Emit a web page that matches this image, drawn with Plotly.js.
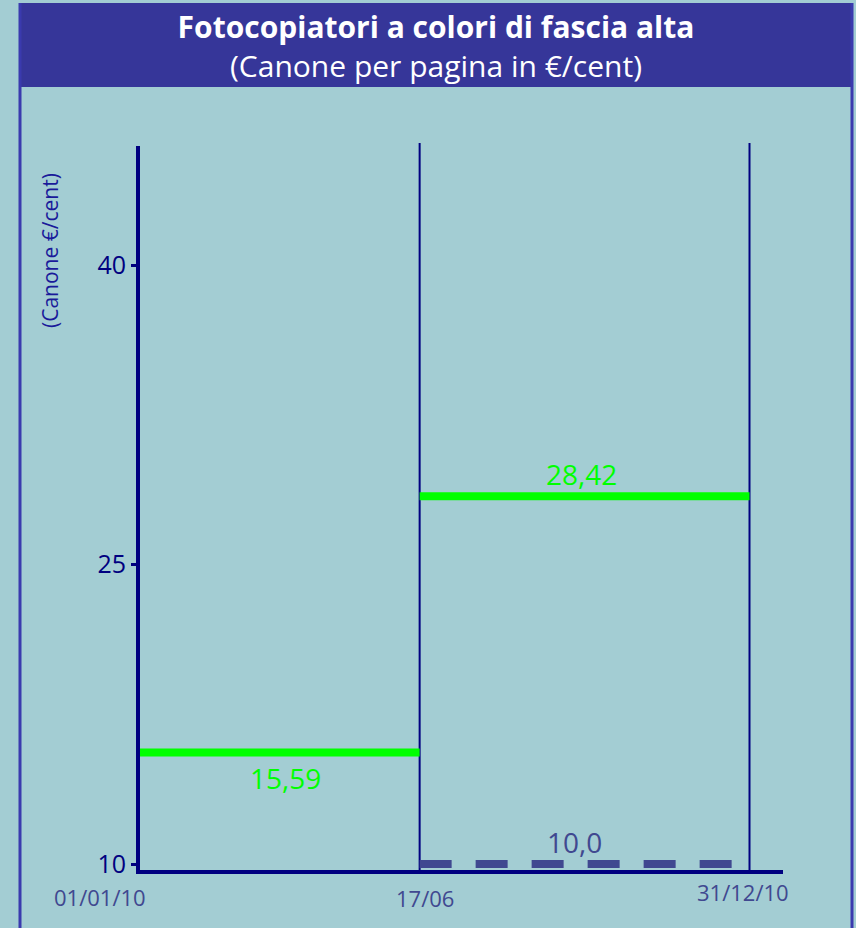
<!DOCTYPE html>
<html><head><meta charset="utf-8">
<script src="https://cdn.plot.ly/plotly-3.0.1.min.js"></script>
<style>html,body{margin:0;padding:0;background:#a3cdd3;}</style>
</head><body><div id="chart" style="width:856px;height:928px;"></div>
<script>
// ---- data ----
const periodStarts = ['2010-01-01', '2010-06-17'];
const periodEnds = ['2010-06-17', '2010-12-31'];
const canoneValues = [15.59, 28.42];
const canoneLabels = ['15,59', '28,42'];
const referenceValue = 10.0;
const referenceLabel = '10,0';
const periodBoundaries = ['2010-06-17', '2010-12-31'];
const xTickDates = ['2010-01-01', '2010-06-17', '2010-12-31'];
const xTickLabels = ['01/01/10', '17/06', '31/12/10'];
const yTickValues = [10, 25, 40];
const yTickLabels = ['10', '25', '40'];

// ---- layout geometry / styles ----
const W = 856, H = 928, L = 140, R = 73, T = 146, B = 58;
const pw = W - L - R, ph = H - T - B;
const pxX = x => (x - L) / pw;
const pxY = y => (H - B - y) / ph;
const FONT = 'Open Sans, sans-serif';
const NAVY = '#000080';
const SLATE = '#404890';
const GREEN = '#00ff00';
const BG = '#a3cdd3';
const xTickShift = [[-40, -27], [5, -28], [-7, -22]];
const valueLabelShift = [[7, -26], [-2, 22]];

function midDate(a, b) {
  const ta = new Date(a + 'T00:00:00Z').getTime(), tb = new Date(b + 'T00:00:00Z').getTime();
  return new Date((ta + tb) / 2).toISOString().slice(0, 10);
}

const traces = [];
canoneValues.forEach((v, i) => {
  traces.push({
    type: 'scatter', mode: 'lines',
    x: [periodStarts[i], periodEnds[i]], y: [v, v],
    line: {color: GREEN, width: 8}, hoverinfo: 'skip', showlegend: false
  });
});
traces.push({
  type: 'scatter', mode: 'lines',
  x: [periodStarts[1], periodEnds[1]], y: [referenceValue, referenceValue],
  line: {color: SLATE, width: 8, dash: '32px,24px'}, hoverinfo: 'skip', showlegend: false
});

const annotations = [];
canoneValues.forEach((v, i) => {
  annotations.push({
    x: midDate(periodStarts[i], periodEnds[i]), y: v, xref: 'x', yref: 'y',
    text: canoneLabels[i], showarrow: false, xanchor: 'center', yanchor: 'middle',
    xshift: valueLabelShift[i][0], yshift: valueLabelShift[i][1],
    font: {family: FONT, size: 28, color: GREEN}
  });
});
annotations.push({
  x: midDate(periodStarts[1], periodEnds[1]), y: referenceValue, xref: 'x', yref: 'y',
  text: referenceLabel, showarrow: false, xanchor: 'center', yanchor: 'middle',
  xshift: -9, yshift: 22, font: {family: FONT, size: 28, color: SLATE}
});
xTickDates.forEach((d, i) => {
  annotations.push({
    x: d, y: 0, xref: 'x', yref: 'paper', text: xTickLabels[i], showarrow: false,
    xanchor: 'center', yanchor: 'middle', xshift: xTickShift[i][0], yshift: xTickShift[i][1],
    font: {family: FONT, size: 22, color: SLATE}
  });
});
annotations.push({
  x: pxX(50), y: pxY(251), xref: 'paper', yref: 'paper', text: '(Canone €/cent)',
  textangle: -90, showarrow: false, xanchor: 'center', yanchor: 'middle',
  font: {family: FONT, size: 21, color: '#1a1a9a'}
});

const shapes = [
  {type: 'rect', xref: 'paper', yref: 'paper', x0: pxX(19), x1: pxX(853), y0: pxY(87), y1: pxY(3),
   fillcolor: '#363699', line: {width: 0}, layer: 'below'},
  {type: 'line', xref: 'paper', yref: 'paper', x0: pxX(20), x1: pxX(20), y0: pxY(3), y1: pxY(935),
   line: {color: '#3a3aae', width: 3}},
  {type: 'line', xref: 'paper', yref: 'paper', x0: pxX(852), x1: pxX(852), y0: pxY(3), y1: pxY(935),
   line: {color: '#3a3aae', width: 3}}
];
periodBoundaries.forEach(d => {
  shapes.push({type: 'line', xref: 'x', yref: 'paper', x0: d, x1: d, y0: 0, y1: pxY(143),
    line: {color: NAVY, width: 2}, layer: 'below'});
});

const layout = {
  width: W, height: H,
  margin: {l: L, r: R, t: T, b: B, pad: 0},
  paper_bgcolor: BG, plot_bgcolor: BG,
  showlegend: false,
  title: {
    text: '<b>Fotocopiatori a colori di fascia alta</b><br>(Canone per pagina in €/cent)',
    font: {family: FONT, size: 30, color: '#ffffff'},
    xref: 'container', x: 436 / W, xanchor: 'center',
    yref: 'container', y: 1 - 38 / H, yanchor: 'top'
  },
  xaxis: {
    type: 'date', range: ['2010-01-01', '2011-01-20'],
    showline: true, linewidth: 4, linecolor: NAVY,
    showgrid: false, zeroline: false, showticklabels: false, ticks: ''
  },
  yaxis: {
    range: [9.70, 45.96],
    tickvals: yTickValues, ticktext: yTickLabels,
    ticks: 'outside', ticklen: 5, tickwidth: 3, tickcolor: NAVY,
    showline: true, linewidth: 4, linecolor: NAVY,
    showgrid: false, zeroline: false,
    tickfont: {family: FONT, size: 25, color: NAVY}
  },
  annotations: annotations,
  shapes: shapes
};

Plotly.newPlot('chart', traces, layout, {displayModeBar: false, staticPlot: true});
</script></body></html>
